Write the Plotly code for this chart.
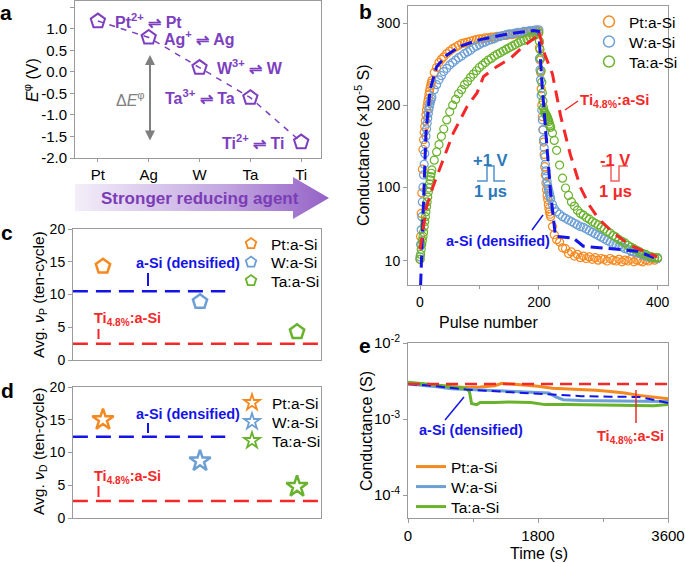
import plotly.graph_objects as go

W, H = 685, 563
def PX(x): return x / W
def PY(y): return 1 - y / H

FONT = "Liberation Sans, Arial, Helvetica, sans-serif"
PURPLE = "#7d3fbf"
ORANGE = "#f5891f"
LBLUE = "#6c9fd4"
GREEN = "#69b22c"
DBLUE = "#1414e8"
RED = "#f42828"
FRAME = "#9a9a9a"

# ---------------- panel a data ----------------
metals = ["Pt", "Ag", "W", "Ta", "Ti"]
e_std = [1.18, 0.80, 0.10, -0.60, -1.63]
reactions = ["Pt<sup>2+</sup> ⇌ Pt", "Ag<sup>+</sup> ⇌ Ag", "W<sup>3+</sup> ⇌ W",
             "Ta<sup>3+</sup> ⇌ Ta", "Ti<sup>2+</sup> ⇌ Ti"]
a_yticks = [1.5, 1.0, 0.5, 0.0, -0.5, -1.0, -1.5, -2.0]
a_yticklabels = ["1.5", "1.0", "0.5", "0.0", "-0.5", "-1.0", "-1.5", "-2.0"]

# ---------------- panel b data ----------------
b_pulse = [0, 1, 2, 3, 4, 5, 6, 7, 8, 9, 10, 11, 12, 13, 14, 15, 16, 17, 18, 19, 20,
           24, 28, 32, 36, 40,
           45, 50, 55, 60, 65, 70, 75, 80, 85, 90, 95, 100, 105, 110, 115, 120, 125, 130,
           135, 140, 145, 150, 155, 160, 165, 170, 175, 180, 185, 190, 195,
           200,
           201, 202, 203, 204, 205, 206, 207, 208, 209, 210, 211, 212, 213, 214, 215, 216,
           217, 218, 219, 220,
           223, 226, 230,
           235, 240, 245, 250, 255, 260, 265, 270, 275, 280, 285, 290, 295, 300, 305, 310,
           315, 320, 325, 330, 335, 340, 345, 350, 355, 360, 365, 370, 375, 380, 385, 390,
           395, 400]
pt_g = [12, 40, 68, 93, 122, 146, 158, 167, 174, 181, 188, 194, 199, 204, 208, 213, 217, 221, 224, 227, 230,
        240, 246, 252, 256, 259,
        263, 266, 269, 271, 273, 275, 276, 277, 278, 279, 280, 281, 281, 282, 282, 283, 283, 284,
        284, 285, 285, 286, 286, 287, 287, 288, 288, 289, 289, 289, 290,
        290,
        270, 255, 240, 220, 200, 186, 170, 155, 140, 125, 115, 105, 97, 90, 85, 79, 74, 70, 67, 64,
        52, 42, 36,
        33, 26, 25, 19, 21, 16, 18, 14, 16, 13, 15, 12, 14, 11, 13, 12, 10, 13, 11, 10, 12, 9,
        11, 10, 12, 9, 11, 10, 9, 11, 10, 12, 11, 13]
w_g = [15, 30, 48, 64, 82, 100, 115, 128, 141, 152, 162, 171, 178, 184, 190, 195, 199, 202, 205, 208, 210,
       219, 225, 231, 236, 241,
       245, 249, 252, 255, 258, 260, 263, 265, 267, 270, 272, 274, 276, 277, 279, 280, 281, 283,
       284, 285, 286, 287, 287, 288, 289, 289, 290, 290, 291, 291, 292,
       292,
       257, 243, 231, 212, 194, 182, 170, 158, 148, 137, 128, 120, 113, 107, 102, 98, 95, 92, 89, 86,
       79, 74, 70,
       67, 64, 62, 60, 58, 56, 54, 52, 51, 49, 47, 45, 43, 41, 39, 37, 35, 33, 31, 30, 28, 27,
       25, 24, 22, 21, 20, 19, 17, 16, 15, 14, 14, 13]
ta_g = [12, 18, 24, 30, 35, 40, 45, 52, 58, 64, 70, 76, 82, 88, 94, 99, 104, 109, 113, 117, 121,
        133, 143, 152, 162, 171,
        182, 192, 200, 207, 214, 219, 225, 229, 234, 238, 242, 246, 249, 252, 255, 257, 260, 262,
        264, 266, 268, 270, 272, 274, 276, 278, 279, 281, 283, 284, 286,
        288,
        278, 268, 257, 242, 228, 215, 205, 197, 193, 191, 190, 188, 187, 186, 184, 182, 180, 177, 175, 173,
        166, 157, 145,
        127, 111, 99, 90, 82, 77, 72, 68, 66, 63, 61, 58, 56, 54, 51, 49, 46, 44, 41, 39, 36, 34,
        32, 29, 27, 25, 23, 21, 19, 18, 16, 15, 14, 14]
dens_pulse = [1, 3, 6, 10, 17, 28, 45, 68, 101, 141, 169, 191, 200, 205, 211, 220, 228, 258, 275, 320, 366, 394]
dens_g = [-20, 20, 76, 166, 219, 247, 261, 272, 280, 286, 289, 291, 290, 230, 174, 92, 40, 38, 28, 25, 22, 14]
ti_pulse = [0, 11, 22, 39, 56, 79, 96, 107, 129, 152, 174, 197, 200, 210, 223, 237, 253, 270, 285, 300, 326, 354, 386, 399]
ti_g = [24, 76, 101, 133, 166, 198, 215, 235, 247, 257, 272, 284, 290, 262, 238, 186, 140, 100, 78, 62, 44, 29, 19, 15]
b_series = ["Pt:a-Si", "W:a-Si", "Ta:a-Si"]
b_yticks = [10, 100, 200, 300]

# ---------------- panel c / d data ----------------
cd_materials = ["Pt:a-Si", "W:a-Si", "Ta:a-Si"]
nu_p = [14.3, 8.9, 4.3]
nu_d = [15.0, 8.7, 4.8]
nu_p_dens, nu_p_ti = 10.5, 2.5
nu_d_dens, nu_d_ti = 12.4, 2.6

# ---------------- panel e data ----------------
pt_t = [0, 200, 400, 600, 800, 1000, 1200, 1300, 1400, 1600, 1800, 2000, 2200, 2400, 2600, 2800, 3000, 3200, 3400, 3600]
pt_e = [2.95e-3, 2.85e-3, 2.75e-3, 2.65e-3, 2.6e-3, 2.65e-3, 2.75e-3, 2.95e-3, 2.9e-3, 2.75e-3,
        2.7e-3, 2.55e-3, 2.5e-3, 2.45e-3, 2.4e-3, 2.3e-3, 2.2e-3, 2.05e-3, 1.95e-3, 1.85e-3]
w_t = [0, 200, 400, 600, 800, 1000, 1200, 1400, 1600, 1800, 1950, 2050, 2150, 2400, 2800, 3200, 3600]
w_e = [2.9e-3, 2.8e-3, 2.65e-3, 2.5e-3, 2.45e-3, 2.4e-3, 2.38e-3, 2.35e-3, 2.3e-3, 2.25e-3,
       2.2e-3, 1.95e-3, 1.8e-3, 1.75e-3, 1.75e-3, 1.72e-3, 1.7e-3]
ta_t = [0, 200, 400, 600, 800, 850, 880, 950, 1000, 1200, 1400, 1700, 1900, 2200, 2600, 3000, 3400, 3600]
ta_e = [3.05e-3, 2.95e-3, 2.8e-3, 2.65e-3, 2.55e-3, 2.3e-3, 1.6e-3, 1.55e-3, 1.65e-3, 1.65e-3,
        1.68e-3, 1.65e-3, 1.55e-3, 1.55e-3, 1.53e-3, 1.5e-3, 1.5e-3, 1.55e-3]
dens_t = [0, 400, 800, 1200, 1600, 1800, 2000, 2400, 2800, 3000, 3200, 3400, 3600]
dens_e = [2.9e-3, 2.7e-3, 2.45e-3, 2.3e-3, 2.2e-3, 2.15e-3, 2.1e-3, 2.0e-3, 1.97e-3, 1.95e-3, 1.95e-3, 1.8e-3, 1.62e-3]
ti_t = [0, 3600]
ti_e = [2.9e-3, 2.9e-3]
e_yticks = [1e-4, 1e-3, 1e-2]
e_yticklabels = ["10<sup>-4</sup>", "10<sup>-3</sup>", "10<sup>-2</sup>"]
e_xticks = [0, 1800, 3600]

COLS = [ORANGE, LBLUE, GREEN]
fig = go.Figure()

# ---- panel a ----
fig.add_trace(go.Scatter(x=list(range(len(metals))), y=e_std, mode="lines+markers",
                         line=dict(color=PURPLE, width=1.5, dash="6px,6px"),
                         marker=dict(symbol="pentagon-open", size=15, color=PURPLE, line=dict(width=2, color=PURPLE)),
                         showlegend=False, xaxis="x", yaxis="y", hoverinfo="skip"))

# ---- panel b ----
for name, vals, col in zip(b_series, [pt_g, w_g, ta_g], COLS):
    fig.add_trace(go.Scatter(x=b_pulse, y=vals, mode="markers", name=name, showlegend=False,
                             marker=dict(symbol="circle-open", size=8, color=col, line=dict(width=1.2, color=col)),
                             xaxis="x2", yaxis="y2"))
fig.add_trace(go.Scatter(x=dens_pulse, y=dens_g, mode="lines", line=dict(color=DBLUE, width=3, dash="12px,6px"),
                         showlegend=False, xaxis="x2", yaxis="y2"))
fig.add_trace(go.Scatter(x=ti_pulse, y=ti_g, mode="lines", line=dict(color=RED, width=3, dash="12px,8px"),
                         showlegend=False, xaxis="x2", yaxis="y2"))

# ---- panel c ----
fig.add_trace(go.Scatter(x=[-0.31, 1.26], y=[nu_p_dens] * 2, mode="lines", line=dict(color=DBLUE, width=2.5, dash="15px,8px"),
                         showlegend=False, xaxis="x3", yaxis="y3"))
fig.add_trace(go.Scatter(x=[-0.31, 2.25], y=[nu_p_ti] * 2, mode="lines", line=dict(color=RED, width=2.5, dash="15px,8px"),
                         showlegend=False, xaxis="x3", yaxis="y3"))
for i, (name, col) in enumerate(zip(cd_materials, COLS)):
    fig.add_trace(go.Scatter(x=[i], y=[nu_p[i]], mode="markers", name=name, showlegend=False,
                             marker=dict(symbol="pentagon-open", size=15, color=col, line=dict(width=2.5, color=col)),
                             xaxis="x3", yaxis="y3"))

# ---- panel d ----
fig.add_trace(go.Scatter(x=[-0.31, 1.26], y=[nu_d_dens] * 2, mode="lines", line=dict(color=DBLUE, width=2.5, dash="15px,8px"),
                         showlegend=False, xaxis="x4", yaxis="y4"))
fig.add_trace(go.Scatter(x=[-0.31, 2.25], y=[nu_d_ti] * 2, mode="lines", line=dict(color=RED, width=2.5, dash="15px,8px"),
                         showlegend=False, xaxis="x4", yaxis="y4"))
for i, (name, col) in enumerate(zip(cd_materials, COLS)):
    fig.add_trace(go.Scatter(x=[i], y=[nu_d[i]], mode="markers", name=name, showlegend=False,
                             marker=dict(symbol="star-open", size=16, color=col, line=dict(width=2.5, color=col)),
                             xaxis="x4", yaxis="y4"))

# ---- panel e ----
for name, tt, vals, col in zip(b_series, [pt_t, w_t, ta_t], [pt_e, w_e, ta_e], COLS):
    fig.add_trace(go.Scatter(x=tt, y=vals, mode="lines", name=name, showlegend=False, line=dict(color=col, width=3),
                             xaxis="x5", yaxis="y5"))
fig.add_trace(go.Scatter(x=dens_t, y=dens_e, mode="lines", line=dict(color=DBLUE, width=2, dash="9px,5px"),
                         showlegend=False, xaxis="x5", yaxis="y5"))
fig.add_trace(go.Scatter(x=ti_t, y=ti_e, mode="lines", line=dict(color=RED, width=2.5, dash="12px,7px"),
                         showlegend=False, xaxis="x5", yaxis="y5"))

# ---- legend entries (one small legend per entry for exact spacing) ----
legend_layouts = {}
LEG_FONT = 15.5
def legend_entry(idx, name, px_x, px_y, **tr):
    key = "legend" if idx == 1 else "legend%d" % idx
    legend_layouts[key] = dict(x=PX(px_x), y=PY(px_y), xanchor="left", yanchor="middle",
                               bgcolor="rgba(0,0,0,0)", borderwidth=0, font=dict(size=LEG_FONT, color="black"),
                               itemsizing="trace")
    fig.add_trace(go.Scatter(x=[None], y=[None], name=name, legend=key, showlegend=True, **tr))

n = 1
for i, (name, col) in enumerate(zip(b_series, COLS)):
    legend_entry(n, name, 589, 22 + 20 * i, mode="markers",
                 marker=dict(symbol="circle-open", size=11, color=col, line=dict(width=1.5, color=col)),
                 xaxis="x2", yaxis="y2")
    n += 1
for i, (name, col) in enumerate(zip(cd_materials, COLS)):
    legend_entry(n, name, 231, 244 + 18.5 * i, mode="markers",
                 marker=dict(symbol="pentagon-open", size=11, color=col, line=dict(width=1.8, color=col)),
                 xaxis="x3", yaxis="y3")
    n += 1
for i, (name, col) in enumerate(zip(cd_materials, COLS)):
    legend_entry(n, name, 232, 403 + 19 * i, mode="markers",
                 marker=dict(symbol="star-open", size=12, color=col, line=dict(width=1.8, color=col)),
                 xaxis="x4", yaxis="y4")
    n += 1
for i, (name, col) in enumerate(zip(b_series, COLS)):
    legend_entry(n, name, 411, 467 + 20 * i, mode="lines", line=dict(color=col, width=3),
                 xaxis="x5", yaxis="y5")
    n += 1

# ---- gradient arrow (decoration) ----
fig.add_trace(go.Scatter(x=[75, 293, 293, 329, 293, 293, 75, 75], y=[184, 184, 177, 198, 219, 211, 211, 184],
                         mode="lines", fill="toself", line=dict(width=0),
                         fillgradient=dict(type="horizontal", colorscale=[[0, "#f3eef9"], [0.6, "#c2a5e0"], [1, "#9462c6"]]),
                         showlegend=False, xaxis="x6", yaxis="y6", hoverinfo="skip"))


def ax(**kw):
    d = dict(showline=True, linecolor=FRAME, linewidth=1, mirror=True, ticks="outside", ticklen=4,
             tickcolor=FRAME, tickfont=dict(size=14, color="black", family=FONT), showgrid=False, zeroline=False,
             automargin=False)
    d.update(kw)
    return d

layout = dict(
    width=W, height=H, margin=dict(l=0, r=0, t=0, b=0, autoexpand=False), paper_bgcolor="white", plot_bgcolor="white",
    font=dict(family=FONT, color="black"),
    xaxis=ax(domain=[PX(75), PX(321)], range=[-0.45, 4.39], tickvals=list(range(len(metals))), ticktext=metals,
             ticklen=3, tickfont=dict(size=15, color="black"), anchor="y"),
    yaxis=ax(domain=[PY(158), PY(1)], range=[-2.0, 1.646], tickvals=a_yticks, ticktext=a_yticklabels,
             tickfont=dict(size=15, color="black"), anchor="x"),
    xaxis2=ax(domain=[PX(408), PX(668)], range=[-20.2, 417.5], tickvals=[0, 200, 400],
              minor=dict(tickvals=[100, 300], ticks="outside", ticklen=3, tickcolor=FRAME), anchor="y2"),
    yaxis2=ax(domain=[PY(285), PY(6)], range=[-19.3, 321], tickvals=b_yticks, anchor="x2"),
    xaxis3=ax(domain=[PX(73), PX(321)], range=[-0.309, 2.247], showticklabels=False, ticks="", anchor="y3"),
    yaxis3=ax(domain=[PY(360), PY(229)], range=[0, 20], tickvals=[0, 5, 10, 15, 20], anchor="x3"),
    xaxis4=ax(domain=[PX(73), PX(321)], range=[-0.309, 2.247], showticklabels=False, ticks="", anchor="y4"),
    yaxis4=ax(domain=[PY(518), PY(387)], range=[0, 20], tickvals=[0, 5, 10, 15, 20], anchor="x4"),
    xaxis5=ax(domain=[PX(408), PX(668)], range=[0, 3600], tickvals=e_xticks,
              minor=dict(tickvals=[900, 2700], ticks="outside", ticklen=3, tickcolor=FRAME), anchor="y5",
              tickfont=dict(size=15, color="black")),
    yaxis5=ax(domain=[PY(518), PY(343)], type="log", range=[-4.3, -2], tickvals=e_yticks, ticktext=e_yticklabels,
              tickfont=dict(size=15, color="black"), anchor="x5"),
    xaxis6=dict(domain=[PX(75), PX(329)], range=[75, 329], visible=False, anchor="y6", fixedrange=True, automargin=False),
    yaxis6=dict(domain=[PY(219), PY(177)], range=[219, 177], visible=False, anchor="x6", fixedrange=True, automargin=False),
)
layout.update(legend_layouts)
fig.update_layout(**layout)

annotations = []
def ann(x, y, text, size=15, color="black", angle=0, **kw):
    d = dict(x=PX(x), y=PY(y), xref="paper", yref="paper", text=text, showarrow=False,
             font=dict(size=size, color=color, family=FONT), textangle=angle, xanchor="center", yanchor="middle")
    d.update(kw)
    annotations.append(d)

# panel letters
for lx, ly, lt in [(6, 12, "a"), (365, 11, "b"), (7, 233, "c"), (7, 390, "d"), (365, 345, "e")]:
    ann(lx, ly, "<b>%s</b>" % lt, size=21)

# panel a texts
for (lx, ly), r in zip([(148, 21), (200, 38), (250, 67), (200, 97), (253, 142)], reactions):
    ann(lx, ly, "<b>%s</b>" % r, size=16, color=PURPLE)
ann(130, 99, "Δ<i>E</i><sup>φ</sup>", size=16, color="#808080")
annotations.append(dict(x=PX(150), y=PY(55), xref="paper", yref="paper", ax=0, ay=87,
                        axref="pixel", ayref="pixel", text="", showarrow=True, arrowhead=2, arrowside="end+start",
                        arrowsize=1, arrowwidth=2, arrowcolor="#7f7f7f"))
ann(31, 80, "<i>E</i><sup>φ</sup> (V)", size=16, angle=-90)
ann(200, 198, "<b>Stronger reducing agent</b>", size=17, color="#7b3cb6")

# panel b texts
ann(362, 145, "Conductance (×10<sup>-5</sup> S)", size=16, angle=-90)
ann(488, 322, "Pulse number", size=16)
ann(615, 100, "<b>Ti<sub>4.8%</sub>:a-Si</b>", size=15, color=RED)
ann(490, 160, "<b>+1 V</b>", size=16.5, color="#2b79b9")
ann(490, 191, "<b>1 μs</b>", size=16.5, color="#2b79b9")
ann(615, 160, "<b>-1 V</b>", size=16.5, color=RED)
ann(615, 191, "<b>1 μs</b>", size=16.5, color=RED)
ann(498, 241, "<b>a-Si (densified)</b>", size=14.5, color=DBLUE)

# panel c / d texts
ann(39, 295, "Avg. <i>ν</i><sub>P</sub> (ten-cycle)", size=15.5, angle=-90)
ann(39, 452, "Avg. <i>ν</i><sub>D</sub> (ten-cycle)", size=15.5, angle=-90)
ann(188, 263, "<b>a-Si (densified)</b>", size=14.5, color=DBLUE)
ann(128, 319, "<b>Ti<sub>4.8%</sub>:a-Si</b>", size=14.5, color=RED)
ann(188, 414, "<b>a-Si (densified)</b>", size=14.5, color=DBLUE)
ann(128, 477, "<b>Ti<sub>4.8%</sub>:a-Si</b>", size=14.5, color=RED)

# panel e texts
ann(366, 431, "Conductance (S)", size=16, angle=-90)
ann(539, 553, "Time (s)", size=16)
ann(471, 430, "<b>a-Si (densified)</b>", size=14.5, color=DBLUE)
ann(630, 437, "<b>Ti<sub>4.8%</sub>:a-Si</b>", size=14.5, color=RED)

fig.update_layout(annotations=annotations)

shapes = []
def seg(x0, y0, x1, y1, color, width=1.5):
    shapes.append(dict(type="line", xref="paper", yref="paper", x0=PX(x0), y0=PY(y0), x1=PX(x1), y1=PY(y1),
                       line=dict(color=color, width=width)))

def path(pts, color, width=1.5):
    d = "M " + " L ".join("%f,%f" % (PX(a), PY(b)) for a, b in pts)
    shapes.append(dict(type="path", xref="paper", yref="paper", path=d, line=dict(color=color, width=width)))

# b connectors and pulse icons
seg(565, 110, 578, 101, RED, 1.5)
seg(532, 230, 543, 215, DBLUE, 1.5)
path([(477, 181), (487, 181), (487, 166), (494, 166), (494, 181), (505, 181)], "#4f93cc", 1.5)
path([(602, 166), (611, 166), (611, 181), (619, 181), (619, 166), (628, 166)], "#f26060", 1.5)
# c / d ticks
seg(148, 273, 148, 286, DBLUE, 2)
seg(98.5, 329, 98.5, 339, RED, 2)
seg(148, 423, 148, 433, DBLUE, 2)
seg(98.5, 486, 98.5, 497, RED, 2)
# e connectors
seg(445, 420, 464, 397, DBLUE, 1.5)
seg(636, 390, 636, 423, RED, 1.5)

fig.update_layout(shapes=shapes)

fig.write_html("out.html", config={"displayModeBar": False},
               post_script="document.body.style.margin='0';document.body.style.overflow='hidden';")
